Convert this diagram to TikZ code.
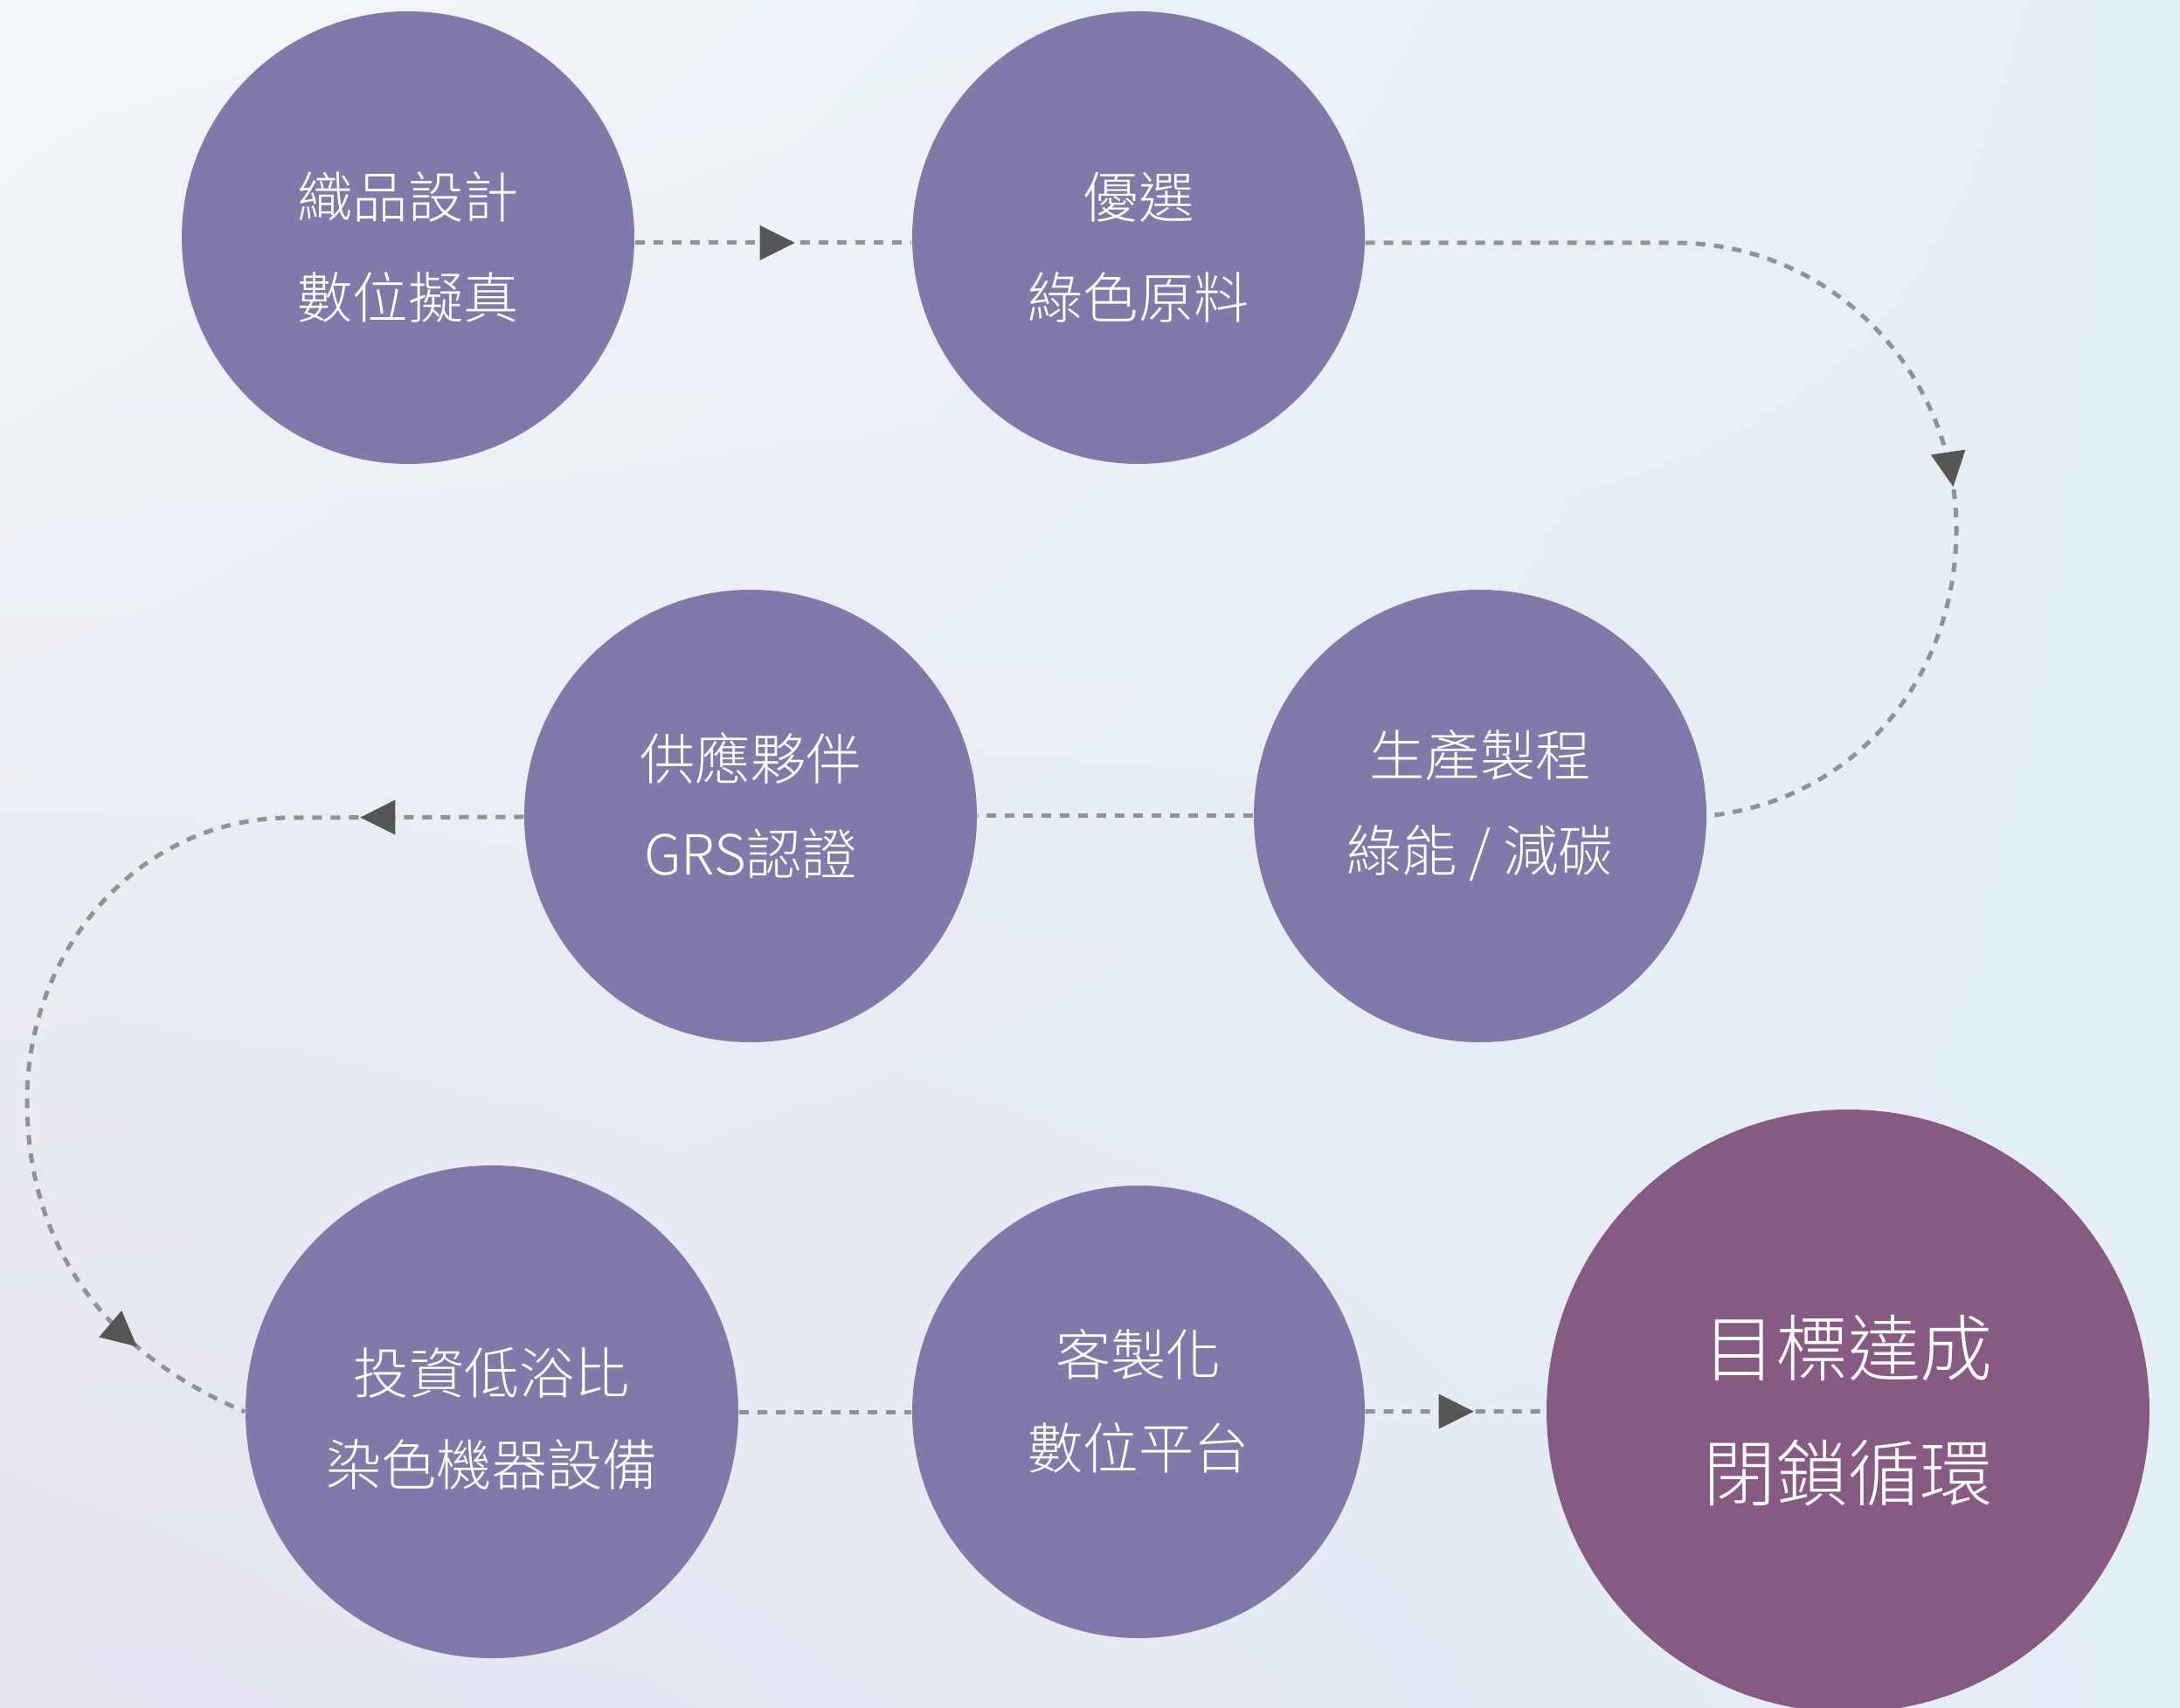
\documentclass[tikz,border=0pt]{standalone}
\usepackage{fontspec}
\setmainfont{Noto Sans CJK TC}[UprightFont=* Light]
\usepackage{tikz}
\usetikzlibrary{arrows.meta,decorations.markings,shadings}

\definecolor{stepviolet}{HTML}{8179A9}
\definecolor{goalplum}{HTML}{865A83}
\definecolor{linkgray}{HTML}{929292}
\definecolor{tipgray}{HTML}{565656}
\definecolor{bglight}{HTML}{F2F6F9}
\definecolor{bgblue}{HTML}{E5EFF6}
\definecolor{bglilac}{HTML}{E4E4EF}

\newcommand{\pair}[3]{\raisebox{#1}[\height][\depth]{#2}\\\raisebox{#1}[\height][\depth]{#3}}

\tikzset{
    stage/.style={circle,fill=stepviolet,text=white,minimum size=5.18cm,inner sep=0pt,
        align=center,font=\fontsize{18}{32.7}\selectfont},
    link/.style={draw=linkgray,line width=1.42pt,dash pattern=on 0.11cm off 0.10cm},
    tipat/.style={postaction={decorate,decoration={markings,mark=at position #1 with
        {\arrow{Triangle[length=4mm,width=4mm,line width=0pt,color=tipgray]}}}}}
}

\begin{document}
\begin{tikzpicture}
    \useasboundingbox (0,0) rectangle (24.95,19.54);
    \shade[upper left=bglight,upper right=bgblue,lower left=bglilac,lower right=bgblue]
        (0,0) rectangle (24.95,19.54);

    \node[stage] (des) at (4.67,16.82) {\pair{-0.11cm}{織品設計}{數位擬真}};
    \node[stage] (mat) at (13.03,16.82) {\pair{-0.11cm}{優選}{綠色原料}};
    \node[stage,font=\fontsize{18}{31}\selectfont] (grs) at (8.59,10.20)
        {\pair{0.12cm}{供應夥伴}{GRS認證}};
    \node[stage,font=\fontsize{18}{31}\selectfont] (prod) at (16.94,10.20)
        {\pair{0.12cm}{生產製程}{綠能 / 減碳}};
    \node[stage,minimum size=5.64cm,font=\fontsize{18}{29.9}\selectfont] (dye) at (5.63,3.38)
        {\pair{-0.08cm}{投資低浴比}{染色機器設備}};
    \node[stage,font=\fontsize{18}{30.4}\selectfont] (cust) at (13.03,3.38)
        {\pair{0.12cm}{客製化}{數位平台}};
    \node[stage,fill=goalplum,minimum size=6.90cm,font=\fontsize{23.6}{40.7}\selectfont]
        (goal) at (21.15,3.39) {目標達成\\閉鎖循環};

    \coordinate (r1) at (19.17,16.76);
    \coordinate (r2) at (22.39,13.48);
    \coordinate (l1) at (3.33,10.18);
    \coordinate (l2) at (0.31,6.94);

    \draw[link,tipat=1.83cm] ([yshift=-0.06cm]des.east) -- ([yshift=-0.06cm]mat.west);
    \draw[link,tipat=8.16cm] ([yshift=-0.06cm]mat.east) -- (r1) to[out=0,in=90] (r2)
        to[out=-90,in=6] (prod.east);
    \draw[link] (prod) -- (grs);
    \draw[link,tipat=1.87cm,tipat=-1.45cm] (grs) -- (l1) to[out=180,in=90] (l2)
        to[out=-90,in=157] (dye.west);
    \draw[link] (dye) -- (cust);
    \draw[link,tipat=1.24cm] (cust) -- (goal);
\end{tikzpicture}
\end{document}
